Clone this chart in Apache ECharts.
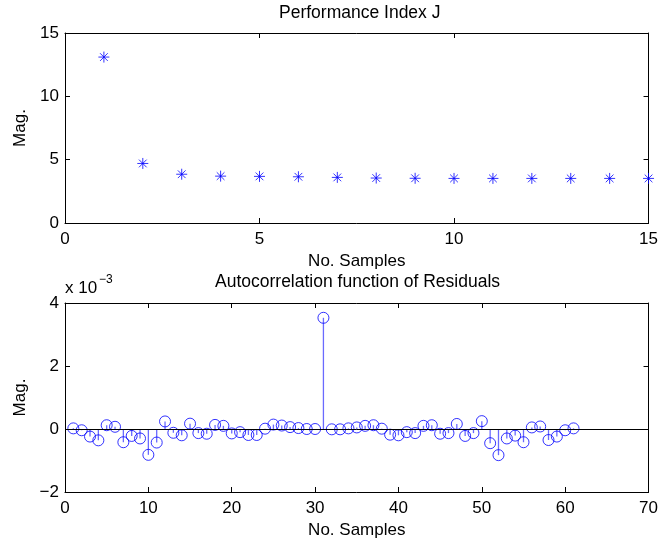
<!DOCTYPE html>
<html>
<head>
<meta charset="utf-8">
<script src="https://cdn.jsdelivr.net/npm/echarts@6/dist/echarts.min.js"></script>
<style>html,body{margin:0;padding:0;background:#fff}#c{width:661px;height:544px}</style>
</head>
<body>
<div id="c"></div>
<script>
// Performance Index J (samples 1..15)
var perfSamples = [1,2,3,4,5,6,7,8,9,10,11,12,13,14,15];
var perfValues = [13.1,4.7,3.85,3.7,3.68,3.65,3.6,3.55,3.53,3.52,3.52,3.52,3.52,3.52,3.52];
var perfYTicks = [0,5,10,15];
var perfXTicks = [0,5,10,15];

// Autocorrelation of residuals (values in units of 1e-3), samples 1..61
var acfSamples = [1,2,3,4,5,6,7,8,9,10,11,12,13,14,15,16,17,18,19,20,
  21,22,23,24,25,26,27,28,29,30,31,32,33,34,35,36,37,38,39,40,
  41,42,43,44,45,46,47,48,49,50,51,52,53,54,55,56,57,58,59,60,61];
var acfValues = [
  0.02,-0.04,-0.24,-0.36,0.12,0.07,-0.42,-0.22,-0.30,-0.82,
  -0.43,0.24,-0.12,-0.20,0.17,-0.13,-0.15,0.13,0.10,-0.14,
  -0.10,-0.19,-0.19,0.01,0.14,0.11,0.06,0.03,0.00,0.00,
  3.53,-0.01,-0.01,0.02,0.05,0.10,0.12,0.01,-0.18,-0.20,
  -0.10,-0.13,0.10,0.12,-0.15,-0.13,0.16,-0.22,-0.13,0.25,
  -0.45,-0.83,-0.30,-0.21,-0.42,0.05,0.08,-0.35,-0.24,-0.04,
  0.02
];
var acfYTicks = [-2,0,2,4];
var acfXTicks = [0,10,20,30,40,50,60,70];

var FONT = '"Liberation Sans", Arial, Helvetica, sans-serif';
var BLUE = '#0000ff';
var STEM = '#6a6aff';
var FS = 17;

function fmt(v){ return String(v).replace('-', '\u2212'); }

function mainX(gi, ticks, name){
  return {
    type:'value', gridIndex:gi, min:ticks[0], max:ticks[ticks.length-1], interval:ticks[1]-ticks[0],
    position:'bottom',
    axisLine:{show:true,onZero:false,lineStyle:{color:'#000',width:1}},
    axisTick:{show:true,inside:true,length:5,lineStyle:{color:'#000'}},
    axisLabel:{color:'#000',fontSize:FS,fontFamily:FONT,margin:8,formatter:fmt},
    splitLine:{show:false},
    name:name,nameLocation:'middle',nameGap:30,
    nameTextStyle:{color:'#000',fontSize:FS,fontFamily:FONT}
  };
}
function mirrorX(gi, ticks){
  return {
    type:'value', gridIndex:gi, min:ticks[0], max:ticks[ticks.length-1], interval:ticks[1]-ticks[0],
    position:'top',
    axisLine:{show:true,onZero:false,lineStyle:{color:'#000',width:1}},
    axisTick:{show:true,inside:true,length:5,lineStyle:{color:'#000'}},
    axisLabel:{show:false},splitLine:{show:false}
  };
}
function mainY(gi, ticks){
  return {
    type:'value', gridIndex:gi, min:ticks[0], max:ticks[ticks.length-1], interval:ticks[1]-ticks[0],
    position:'left',
    axisLine:{show:true,onZero:false,lineStyle:{color:'#000',width:1}},
    axisTick:{show:true,inside:true,length:5,lineStyle:{color:'#000'}},
    axisLabel:{color:'#000',fontSize:FS,fontFamily:FONT,margin:6,formatter:fmt},
    splitLine:{show:false},
    name:'Mag.',nameLocation:'middle',nameGap:35,nameRotate:90,
    nameTextStyle:{color:'#000',fontSize:FS,fontFamily:FONT}
  };
}
function mirrorY(gi, ticks){
  return {
    type:'value', gridIndex:gi, min:ticks[0], max:ticks[ticks.length-1], interval:ticks[1]-ticks[0],
    position:'right',
    axisLine:{show:true,onZero:false,lineStyle:{color:'#000',width:1}},
    axisTick:{show:true,inside:true,length:5,lineStyle:{color:'#000'}},
    axisLabel:{show:false},splitLine:{show:false}
  };
}

var chart = echarts.init(document.getElementById('c'), null, {renderer:'canvas'});
chart.setOption({
  animation:false,
  backgroundColor:'#fff',
  grid:[
    {left:65,right:9,top:33,height:190},
    {left:65,right:9,top:303,height:189}
  ],
  xAxis:[ mainX(0,perfXTicks,'No. Samples'), mirrorX(0,perfXTicks),
          mainX(1,acfXTicks,'No. Samples'), mirrorX(1,acfXTicks) ],
  yAxis:[ mainY(0,perfYTicks), mirrorY(0,perfYTicks),
          mainY(1,acfYTicks), mirrorY(1,acfYTicks) ],
  graphic:[
    {type:'text',left:279,top:4,style:{text:'Performance Index J',fill:'#000',font:'17.5px '+FONT}},
    {type:'text',left:215,top:273,style:{text:'Autocorrelation function of Residuals',fill:'#000',font:'17.5px '+FONT}},
    {type:'text',left:65,top:280,style:{text:'x 10',fill:'#000',font:FS+'px '+FONT}},
    {type:'text',left:99,top:274,style:{text:'\u22123',fill:'#000',font:'12px '+FONT}}
  ],
  series:[
    {
      type:'scatter', xAxisIndex:0, yAxisIndex:0,
      data: perfSamples.map(function(s,k){return [s, perfValues[k]];}),
      symbol:'path://M0,-10L0,10M-10,0L10,0M-7,-7L7,7M-7,7L7,-7',
      symbolSize:11,
      itemStyle:{color:'none',borderColor:BLUE,borderWidth:1},
      clip:false
    },
    {
      type:'scatter', xAxisIndex:2, yAxisIndex:2,
      data: acfSamples.map(function(s,k){return [s, acfValues[k]];}),
      symbol:'circle', symbolSize:0.001,
      itemStyle:{opacity:0},
      markLine:{silent:true,symbol:'none',label:{show:false},
        lineStyle:{color:'#000',width:1,type:'solid'},
        data:[{yAxis:0}]},
      z:1
    },
    {
      type:'custom', xAxisIndex:2, yAxisIndex:2,
      data: acfSamples.map(function(s,k){return [s, acfValues[k]];}),
      renderItem:function(params, api){
        var p0 = api.coord([api.value(0), 0]);
        var p1 = api.coord([api.value(0), api.value(1)]);
        return {type:'line',shape:{x1:p0[0],y1:p0[1],x2:p1[0],y2:p1[1]},
                style:{stroke:STEM,lineWidth:1.3,fill:null}};
      },
      z:2
    },
    {
      type:'scatter', xAxisIndex:2, yAxisIndex:2,
      data: acfSamples.map(function(s,k){return [s, acfValues[k]];}),
      symbol:'circle', symbolSize:11,
      itemStyle:{color:'rgba(0,0,0,0)',borderColor:BLUE,borderWidth:1},
      z:3
    }
  ]
});
</script>
</body>
</html>
